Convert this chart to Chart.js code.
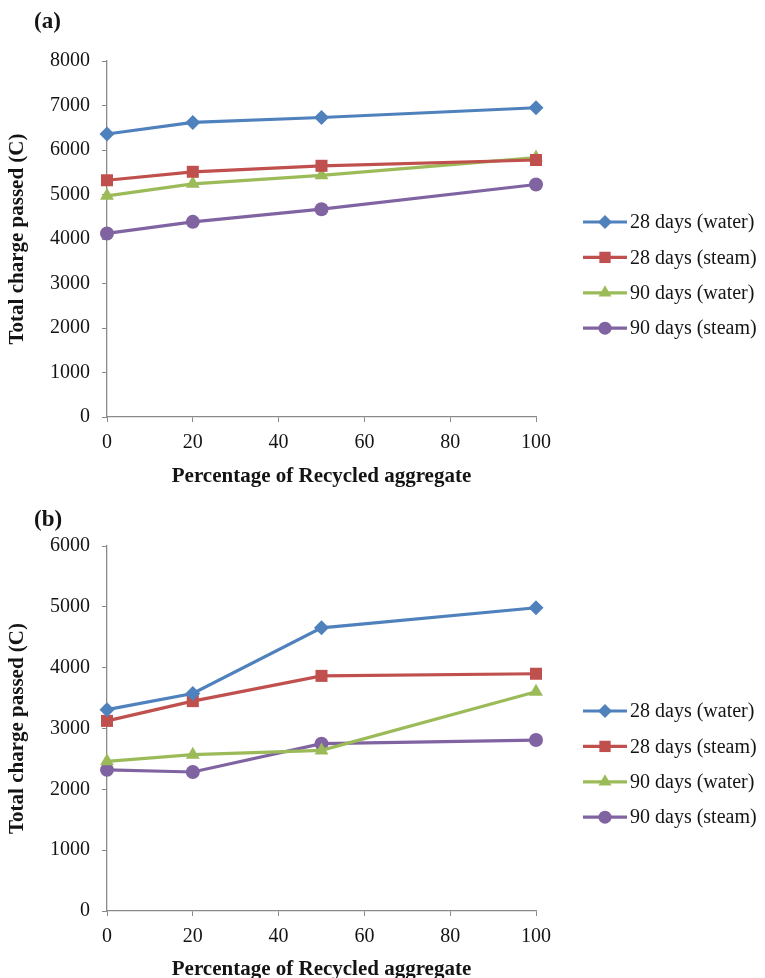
<!DOCTYPE html>
<html>
<head>
<meta charset="utf-8">
<script src="https://cdn.jsdelivr.net/npm/chart.js@4.4.1/dist/chart.umd.min.js"></script>
<style>
  html, body { margin: 0; padding: 0; background: #fff; }
  #wrap { position: relative; width: 765px; height: 978px; overflow: hidden; }
  canvas { position: absolute; left: 0; }
</style>
</head>
<body>
<div id="wrap">
  <canvas id="chartA" width="765" height="490" style="top:0"></canvas>
  <canvas id="chartB" width="765" height="488" style="top:490px"></canvas>
</div>
<script>
// Percentage of recycled aggregate (x values shared by every series)
const recycledPct = [0, 20, 50, 100];

const seriesNames = ['28 days (water)', '28 days (steam)', '90 days (water)', '90 days (steam)'];

// Panel (a): total charge passed, coulombs
const a28Water = [6360, 6620, 6730, 6950];
const a28Steam = [5320, 5510, 5645, 5775];
const a90Water = [4970, 5240, 5430, 5830];
const a90Steam = [4125, 4385, 4670, 5225];

// Panel (b): total charge passed, coulombs
const b28Water = [3310, 3575, 4655, 4985];
const b28Steam = [3125, 3450, 3865, 3900];
const b90Water = [2460, 2570, 2640, 3605];
const b90Steam = [2320, 2285, 2750, 2810];

// Axis tick values
const xTicks = [0, 20, 40, 60, 80, 100];
const yTicksA = [0, 1000, 2000, 3000, 4000, 5000, 6000, 7000, 8000];
const yTicksB = [0, 1000, 2000, 3000, 4000, 5000, 6000];

const colors = ['#4F81BD', '#C0504D', '#9BBB59', '#8064A2'];
const markers = [
  { style: 'rectRot', radius: 7.5 },
  { style: 'rect', radius: 8.5 },
  { style: 'triangle', radius: 8 },
  { style: 'circle', radius: 7 }
];

const SERIF = '"Liberation Serif", "Times New Roman", serif';
const TEXT = '#141414';
const AXIS = '#8a8a8a';

function makeDatasets(seriesValues) {
  return seriesValues.map((vals, i) => ({
    label: seriesNames[i],
    data: recycledPct.map((x, j) => ({ x: x, y: vals[j] })),
    borderColor: colors[i],
    backgroundColor: colors[i],
    borderWidth: 3.2,
    pointStyle: markers[i].style,
    pointRadius: markers[i].radius,
    pointBorderWidth: 0,
    pointBackgroundColor: colors[i],
    tension: 0,
    clip: false
  }));
}

// Draws the panel tag and the series key at the right side
const sideDecor = {
  id: 'sideDecor',
  afterDraw(chart, args, opts) {
    const ctx = chart.ctx;
    ctx.save();
    ctx.fillStyle = TEXT;
    ctx.font = 'bold 23px ' + SERIF;
    ctx.textAlign = 'left';
    ctx.textBaseline = 'middle';
    ctx.fillText(opts.tag, 34, opts.tagY);

    chart.data.datasets.forEach((ds, i) => {
      const y = opts.keyTop + i * opts.keyGap;
      ctx.strokeStyle = ds.borderColor;
      ctx.lineWidth = 3.2;
      ctx.beginPath();
      ctx.moveTo(583, y);
      ctx.lineTo(627, y);
      ctx.stroke();
      ctx.fillStyle = ds.borderColor;
      Chart.helpers.drawPoint(ctx, {
        pointStyle: ds.pointStyle,
        radius: ds.pointRadius - 0.5,
        borderWidth: 0,
        rotation: 0
      }, 605, y);
      ctx.fillStyle = TEXT;
      ctx.font = '20px ' + SERIF;
      ctx.textAlign = 'left';
      ctx.textBaseline = 'middle';
      ctx.fillText(ds.label, 630, y + 1);
    });
    ctx.restore();
  }
};

function makeChart(canvasId, seriesValues, yTicks, cfg) {
  const yMax = yTicks[yTicks.length - 1];
  return new Chart(document.getElementById(canvasId), {
    type: 'line',
    data: { datasets: makeDatasets(seriesValues) },
    options: {
      responsive: false,
      animation: false,
      devicePixelRatio: 1,
      layout: { padding: { top: cfg.top, right: 229, bottom: 0, left: 0 } },
      plugins: {
        legend: { display: false },
        tooltip: { enabled: false },
        sideDecor: { tag: cfg.tag, tagY: cfg.tagY, keyTop: cfg.keyTop, keyGap: 35.4 }
      },
      scales: {
        x: {
          type: 'linear',
          min: xTicks[0],
          max: xTicks[xTicks.length - 1],
          afterBuildTicks: s => { s.ticks = xTicks.map(v => ({ value: v })); },
          afterFit: s => { s.height = cfg.xHeight; },
          ticks: {
            color: TEXT,
            font: { family: SERIF, size: 20 },
            padding: 9,
            maxRotation: 0,
            callback: v => String(v)
          },
          grid: { drawOnChartArea: false, drawTicks: true, tickLength: 5, color: AXIS },
          border: { color: AXIS, width: 1.3 },
          title: {
            display: true,
            text: 'Percentage of Recycled aggregate',
            color: TEXT,
            font: { family: SERIF, size: 21, weight: 'bold', lineHeight: 1 },
            padding: { top: 0, bottom: cfg.xTitlePad }
          }
        },
        y: {
          type: 'linear',
          min: 0,
          max: yMax,
          afterBuildTicks: s => { s.ticks = yTicks.map(v => ({ value: v })); },
          afterFit: s => { s.width = 107; },
          ticks: {
            color: TEXT,
            font: { family: SERIF, size: 20 },
            padding: 12,
            callback: v => String(v)
          },
          grid: { drawOnChartArea: false, drawTicks: true, tickLength: 5, color: AXIS },
          border: { color: AXIS, width: 1.3 },
          title: {
            display: true,
            text: 'Total charge passed (C)',
            color: TEXT,
            font: { family: SERIF, size: 21, weight: 'bold', lineHeight: 1 },
            padding: { top: 7.5, bottom: 0 }
          }
        }
      }
    },
    plugins: [sideDecor]
  });
}

makeChart('chartA', [a28Water, a28Steam, a90Water, a90Steam], yTicksA,
  { top: 61, xHeight: 73, xTitlePad: 2.5, tag: '(a)', tagY: 22, keyTop: 222 });
makeChart('chartB', [b28Water, b28Steam, b90Water, b90Steam], yTicksB,
  { top: 56, xHeight: 67, xTitlePad: -2, tag: '(b)', tagY: 30, keyTop: 221 });
</script>
</body>
</html>
